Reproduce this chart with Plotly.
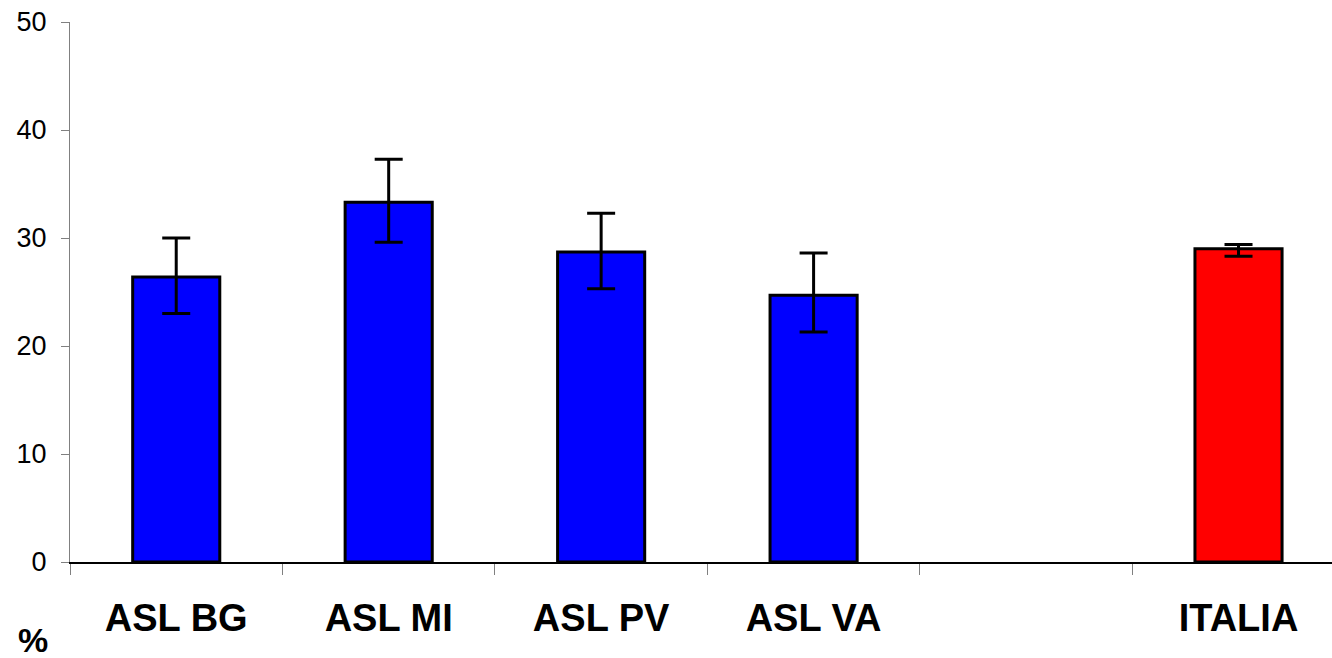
import plotly.graph_objects as go

categories = ["ASL BG", "ASL MI", "ASL PV", "ASL VA", " ", "ITALIA"]
values = [26.4, 33.3, 28.7, 24.7, None, 29.0]
err_plus = [3.6, 4.0, 3.6, 3.9, None, 0.4]
err_minus = [3.4, 3.7, 3.4, 3.4, None, 0.7]
bar_colors = ["#0000FF", "#0000FF", "#0000FF", "#0000FF", "#0000FF", "#FF0000"]
y_ticks = [0, 10, 20, 30, 40, 50]
y_title = "%"

fig = go.Figure()
fig.add_trace(go.Bar(
    x=categories, y=values,
    marker=dict(color=bar_colors, line=dict(color="black", width=3)),
    width=0.41,
    error_y=dict(type="data", symmetric=False, array=err_plus, arrayminus=err_minus,
                 color="black", thickness=3, width=14),
    showlegend=False,
))

fig.update_layout(
    width=1332, height=658, autosize=False,
    margin=dict(l=70, r=0, t=22, b=96),
    paper_bgcolor="white", plot_bgcolor="white",
    font=dict(family="Liberation Sans, Arial, sans-serif", color="black"),
    xaxis=dict(
        type="category", categoryorder="array", categoryarray=categories,
        range=[-0.5, 5.44],
        tickson="boundaries", ticks="outside", ticklen=11, tickcolor="#808080", tickwidth=1,
        showline=True, linecolor="black", linewidth=2,
        tickfont=dict(size=38, family="Liberation Sans, Arial, sans-serif", weight="bold"),
        ticklabelstandoff=21,
        showgrid=False, zeroline=False,
    ),
    yaxis=dict(
        range=[0, 50], tickvals=y_ticks, ticktext=[str(v) for v in y_ticks],
        ticks="outside", ticklen=8, tickcolor="#808080", tickwidth=1,
        showline=True, linecolor="#808080", linewidth=1,
        tickfont=dict(size=27),
        ticklabelstandoff=9,
        showgrid=False, zeroline=False,
    ),
    annotations=[dict(
        text="<b>" + y_title + "</b>", xref="paper", yref="paper",
        x=(33 - 70) / 1262, y=(562 - 640) / 540,
        xanchor="center", yanchor="middle",
        showarrow=False, font=dict(size=34),
    )],
)

fig.write_html("out.html", post_script="document.body.style.margin='0';",
               config={"displayModeBar": False})
